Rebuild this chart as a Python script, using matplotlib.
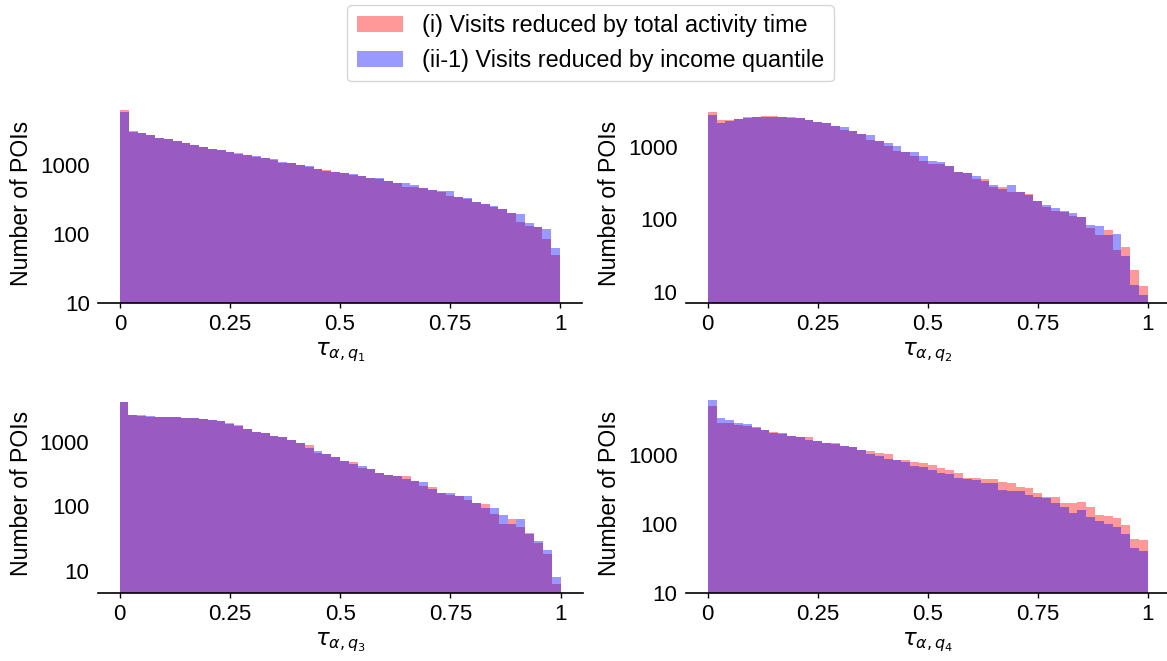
import numpy as np
import matplotlib
matplotlib.use("Agg")
import matplotlib.pyplot as plt
from matplotlib.patches import Patch

plt.rcParams['font.family'] = ['Liberation Sans', 'DejaVu Sans']

# ---- data: counts per bin (50 equal bins on [0, 1]) ----
n_bins = 50
series_labels = ["(i) Visits reduced by total activity time",
                 "(ii-1) Visits reduced by income quantile"]
xlabels = [r"$\tau_{\alpha, q_1}$", r"$\tau_{\alpha, q_2}$",
           r"$\tau_{\alpha, q_3}$", r"$\tau_{\alpha, q_4}$"]
xtick_vals = [0, 0.25, 0.5, 0.75, 1]
xtick_labels = ["0", "0.25", "0.5", "0.75", "1"]
ytick_vals = [10, 100, 1000]
ytick_labels = ["10", "100", "1000"]

red_q1 = [6240, 3050, 2880, 2740, 2450, 2350, 2200, 2080, 1920, 1820, 1720, 1640, 1560, 1480, 1400,
          1320, 1250, 1180, 1080, 1050, 1000, 920, 870, 830, 790, 760, 710, 680, 640, 620,
          580, 545, 480, 480, 460, 440, 410, 360, 345, 320, 290, 270, 250, 230, 200,
          150, 130, 125, 85, 50]
blue_q1 = [5770, 3000, 2850, 2700, 2450, 2330, 2180, 2100, 1950, 1830, 1720, 1620, 1550, 1460, 1400,
           1340, 1250, 1200, 1100, 1060, 990, 960, 860, 820, 800, 760, 740, 690, 650, 650,
           590, 540, 540, 520, 460, 430, 420, 420, 345, 335, 290, 270, 255, 230, 205,
           195, 145, 125, 120, 63]

red_q2 = [3000, 2350, 2380, 2450, 2560, 2560, 2650, 2700, 2600, 2560, 2500, 2350, 2240, 2120, 1960,
          1720, 1680, 1530, 1250, 1220, 1043, 872, 863, 744, 649, 583, 583, 542, 458, 434,
          363, 359, 279, 279, 238, 238, 225, 177, 148, 130, 126, 110, 108, 76, 61.5,
          72, 37.4, 41.6, 20.3, 12]
blue_q2 = [2760, 2130, 2300, 2450, 2480, 2560, 2600, 2620, 2600, 2540, 2500, 2350, 2240, 2120, 1960,
           1870, 1680, 1500, 1460, 1220, 1122, 1043, 863, 845, 744, 636, 629, 542, 458, 434,
           391, 344, 303, 264, 294, 238, 214, 177, 159, 145, 129, 124, 108, 84.5, 80,
           61.5, 63.5, 31.3, 12.4, 9.0]

red_q3 = [4240, 2660, 2660, 2480, 2480, 2480, 2420, 2390, 2330, 2250, 2200, 2120, 2000, 1840, 1570,
          1450, 1365, 1240, 1180, 1075, 953, 898, 667, 650, 578, 513, 494, 390, 376, 326,
          310, 292, 292, 248, 207, 197, 163, 150, 147, 125, 114, 107, 76, 53, 63,
          48, 39, 26.6, 18, 6.2]
blue_q3 = [4240, 2660, 2540, 2540, 2480, 2480, 2480, 2390, 2330, 2250, 2200, 2120, 1905, 1770, 1570,
           1450, 1365, 1240, 1180, 1075, 953, 816, 733, 650, 578, 513, 455, 424, 376, 326,
           310, 299, 263, 248, 236, 186, 163, 163, 147, 145, 114, 95, 95, 73, 53,
           63, 37, 29, 21, 8.1]

red_q4 = [5100, 2930, 2930, 2720, 2620, 2430, 2300, 2150, 2000, 1880, 1800, 1800, 1590, 1475, 1500,
          1350, 1320, 1180, 1140, 1080, 1033, 848, 848, 802, 758, 716, 641, 607, 543, 470,
          460, 445, 445, 411, 389, 341, 330, 285, 250, 244, 205, 200, 207, 179, 136,
          131, 121, 97, 61, 58]
blue_q4 = [6240, 3390, 3140, 2930, 2770, 2570, 2300, 2060, 2040, 1880, 1800, 1650, 1590, 1475, 1425,
           1350, 1320, 1180, 1023, 968, 875, 848, 802, 693, 663, 607, 556, 525, 470, 450,
           435, 389, 389, 312, 302, 302, 264, 250, 236, 200, 179, 143, 160, 128, 112,
           100, 92, 72, 45, 41]

red_all = [red_q1, red_q2, red_q3, red_q4]
blue_all = [blue_q1, blue_q2, blue_q3, blue_q4]

# ---- layout ----
W, H = 1167, 661
fig = plt.figure(figsize=(W / 100, H / 100), dpi=100)

ax_h = 200.5
boxes = [  # left, top-of-axes (px), width (px)
    (98.0, 303.3 - ax_h, 484.0),
    (685.8, 303.3 - ax_h, 484.0),
    (97.6, 593.3 - ax_h, 485.0),
    (685.8, 593.3 - ax_h, 484.0),
]
ylims = [(10, 7890), (6.97, 4060), (4.45, 5840), (10, 7890)]

edges = np.linspace(0, 1, n_bins + 1)
centers = (edges[:-1] + edges[1:]) / 2

for i in range(4):
    l, t, w = boxes[i]
    ax = fig.add_axes([l / W, 1 - (t + ax_h) / H, w / W, ax_h / H])
    ax.hist(centers, bins=edges, weights=red_all[i], color='red', alpha=0.4,
            histtype='stepfilled', linewidth=0, log=True)
    ax.hist(centers, bins=edges, weights=blue_all[i], color='blue', alpha=0.4,
            histtype='stepfilled', linewidth=0, log=True)
    ax.set_yscale('log')
    ax.set_ylim(*ylims[i])
    ax.set_xlim(-0.05, 1.05)
    ax.set_yticks(ytick_vals)
    ax.set_yticklabels(ytick_labels)
    ax.minorticks_off()
    ax.set_xticks(xtick_vals)
    ax.set_xticklabels(xtick_labels)
    for s in ['top', 'right', 'left']:
        ax.spines[s].set_visible(False)
    ax.spines['bottom'].set_linewidth(1.2)
    ax.tick_params(axis='y', length=0, pad=6, labelsize=16)
    ax.tick_params(axis='x', length=3.5, width=1.0, pad=4, labelsize=16)
    ax.set_ylabel("Number of POIs", fontsize=16.6, labelpad=5)
    ax.set_xlabel(xlabels[i], fontsize=16.5)
    ax.set_facecolor('white')

handles = [Patch(facecolor='red', alpha=0.4, edgecolor='none'),
           Patch(facecolor='blue', alpha=0.4, edgecolor='none')]
fig.legend(handles, series_labels, loc='upper center',
           bbox_to_anchor=(590.5 / W, 1 - 5 / H), borderaxespad=0,
           fontsize=16.8, frameon=True)

fig.savefig("out.png", dpi=100)
